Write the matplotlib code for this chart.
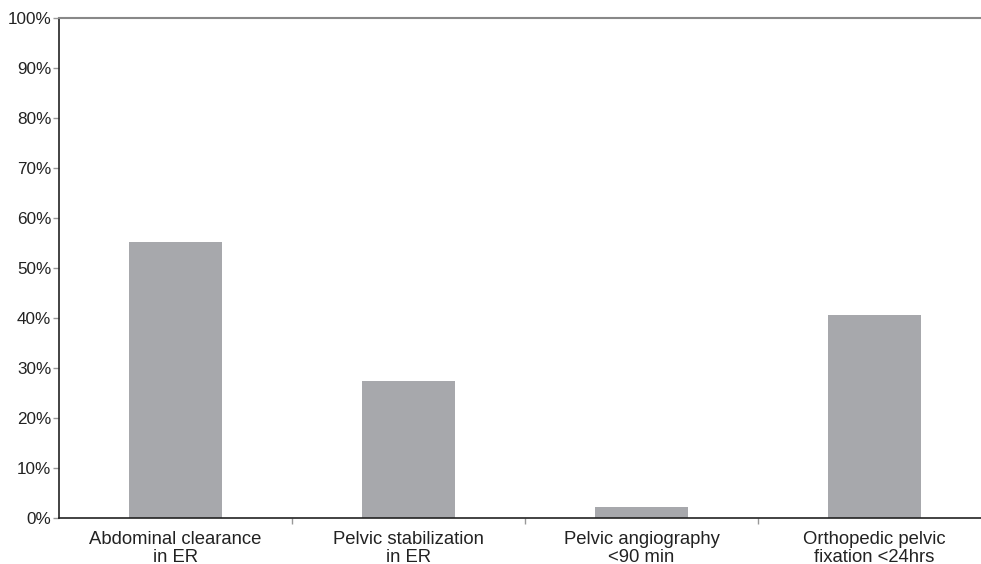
import matplotlib
matplotlib.use("Agg")
import matplotlib.pyplot as plt
from matplotlib.ticker import FixedLocator, PercentFormatter

categories = ["Abdominal clearance\nin ER", "Pelvic stabilization\nin ER",
              "Pelvic angiography\n<90 min", "Orthopedic pelvic\nfixation <24hrs"]
values = [55.3, 27.5, 2.3, 40.7]
yticks = list(range(0, 101, 10))

plt.rcParams['font.family'] = ['Liberation Sans', 'DejaVu Sans']

fig = plt.figure(figsize=(9.81, 5.64), dpi=100)
ax = fig.add_axes([59/981, 46/564, 932/981, 500/564])

x = list(range(len(categories)))
ax.bar(x, values, width=0.40, color='#a7a8ac', zorder=2)

ax.set_xlim(-0.5, len(categories) - 0.5)
ax.set_ylim(0, 100)
ax.set_yticks(yticks)
ax.yaxis.set_major_formatter(PercentFormatter(decimals=0))
ax.set_xticks(x)
ax.set_xticklabels(categories, linespacing=1.05)
ax.xaxis.set_minor_locator(FixedLocator([i + 0.5 for i in x[:-1]]))

ax.tick_params(axis='x', which='major', length=0, pad=9.5, labelsize=13.3, labelcolor='#222222')
ax.tick_params(axis='x', which='minor', length=4, color='#999999', width=1)
ax.tick_params(axis='y', which='major', length=4, color='#999999', width=1, pad=1.5,
               labelsize=12.3, labelcolor='#222222')

ax.spines['left'].set_color('#222222')
ax.spines['left'].set_linewidth(1.2)
ax.spines['bottom'].set_color('#222222')
ax.spines['bottom'].set_linewidth(1.2)
ax.spines['top'].set_color('#888888')
ax.spines['top'].set_linewidth(1.5)
ax.spines['right'].set_visible(False)

fig.savefig("out.png", dpi=100)
